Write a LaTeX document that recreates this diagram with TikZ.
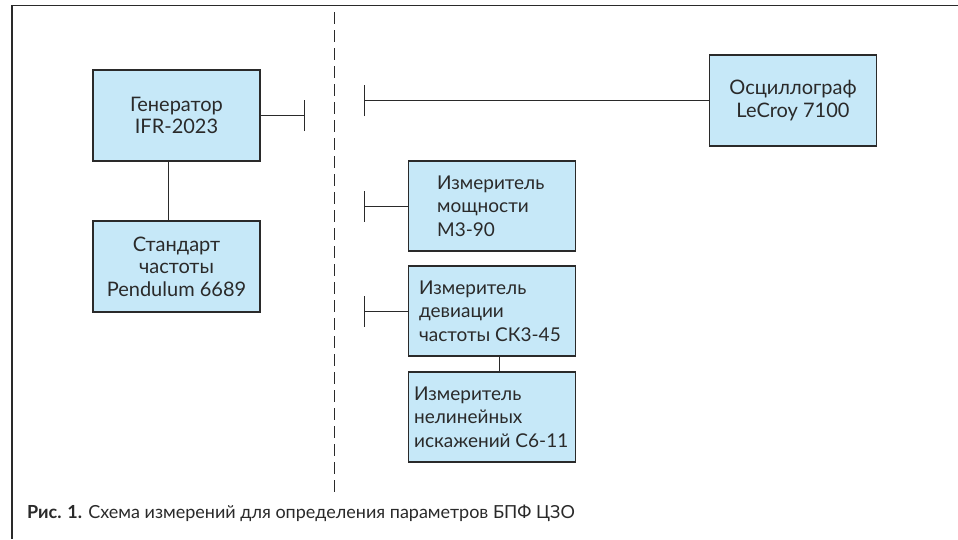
\documentclass[tikz,border=0pt]{standalone}
\usepackage{fontspec}
\setmainfont{Lato}
\definecolor{boxfill}{HTML}{C6E8F8}
\definecolor{ink}{HTML}{2A2A2A}
\begin{document}
\begin{tikzpicture}[x=1pt,y=-1pt,
  box/.style={draw=ink, line width=1.2pt, fill=boxfill, minimum width=167pt, minimum height=91pt,
    font=\fontsize{20}{22.5}\selectfont, text=ink, inner sep=0pt, align=center},
  ltext/.style={anchor=west, align=left, inner sep=0pt, text=ink, font=\fontsize{19}{23.5}\selectfont},
  wire/.style={draw=ink, line width=1pt},
]
\useasboundingbox (0,0) rectangle (958,539);
\fill[white] (0,0) rectangle (958,539);
% frame
\coordinate (fc) at (12,5.5);
\coordinate (fr) at (958,5.5);
\coordinate (fb) at (12,539);
\draw[ink, line width=1.2pt] (fr) -- (fc) -- (fb);
% dashed separator
\coordinate (dtop) at (334,12);
\coordinate (dbot) at (334,492);
\draw[ink, line width=1pt, dash pattern=on 12pt off 6pt] (dtop) -- (dbot);
% boxes
\node[box] (gen) at (176.5,115.5) {Генератор\\IFR-2023};
\node[box] (std) at (176.5,266.5) {Стандарт\\частоты\\Pendulum 6689};
\node[box] (osc) at (793,100.5) {Осциллограф\\LeCroy 7100};
\node[box, minimum height=90pt] (pow) at (492,206) {};
\node[box, minimum height=90pt] (dev) at (492,311) {};
\node[box, minimum height=90pt] (nl) at (492,417) {};
\node[ltext] (powt) at ([xshift=29pt]pow.west) {Измеритель\\мощности\\М3-90};
\node[ltext] (devt) at ([xshift=11pt]dev.west) {Измеритель\\девиации\\частоты СК3-45};
\node[ltext] (nlt) at ([xshift=6pt]nl.west) {Измеритель\\нелинейных\\искажений С6-11};
% links
\draw[wire] ([xshift=-8.5pt]gen.south) -- ([xshift=-8.5pt]std.north);
\draw[wire] ([xshift=7pt]dev.south) -- ([xshift=7pt]nl.north);
% stubs
\coordinate (gb) at (304,115.5);
\draw[wire] (gen.east) -- (gb);
\draw[wire] ([yshift=-15.5pt]gb) -- ([yshift=15.5pt]gb);
\coordinate (ob) at (364,100.5);
\draw[wire] (osc.west) -- (ob);
\draw[wire] ([yshift=-15.5pt]ob) -- ([yshift=15.5pt]ob);
\coordinate (pb) at (364,206);
\draw[wire] (pow.west) -- (pb);
\draw[wire] ([yshift=-15.5pt]pb) -- ([yshift=15.5pt]pb);
\coordinate (db) at (364,311);
\draw[wire] (dev.west) -- (db);
\draw[wire] ([yshift=-15.5pt]db) -- ([yshift=15.5pt]db);
% caption
\node[anchor=west, inner sep=0pt, text=ink, font=\fontsize{18}{20}\selectfont] (cap) at (27,513)
  {\textbf{Рис. 1.} Схема измерений для определения параметров БПФ ЦЗО};
\end{tikzpicture}
\end{document}
